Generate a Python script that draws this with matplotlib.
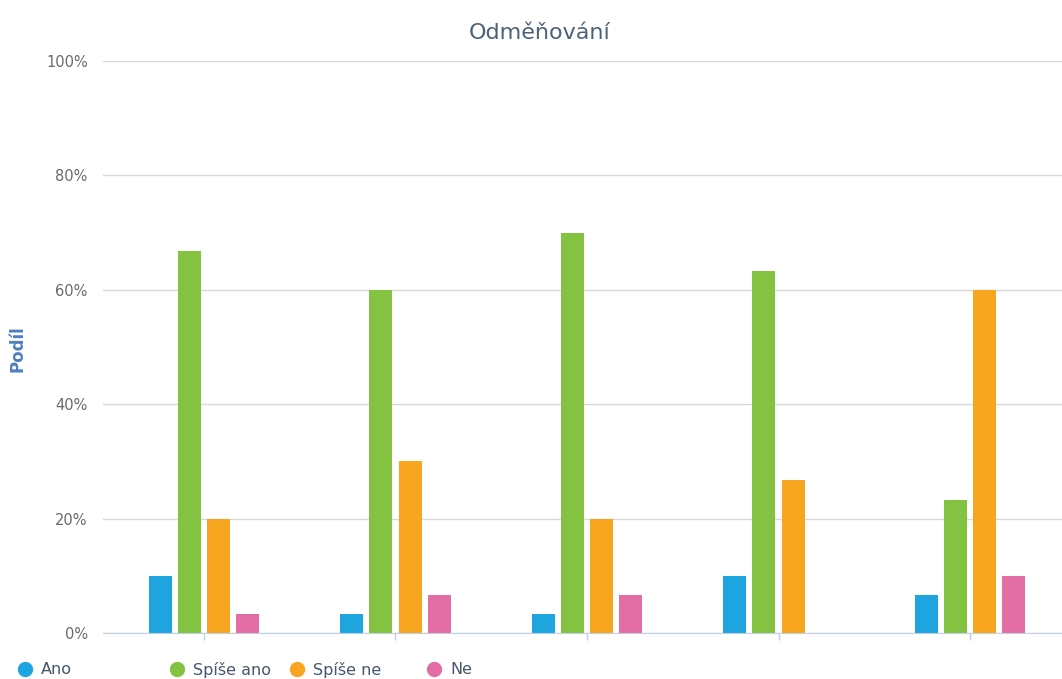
import numpy as np
import matplotlib.pyplot as plt
from matplotlib.lines import Line2D
from matplotlib.ticker import FuncFormatter

# Hodnoty v procentech pro jednotlivé otázky
otazky = ['1', '2', '3', '4', '5']
serie = ['Ano', 'Spíše ano', 'Spíše ne', 'Ne']
ano = [10.0, 3.3, 3.3, 10.0, 6.7]
spise_ano = [66.7, 60.0, 70.0, 63.3, 23.3]
spise_ne = [20.0, 30.0, 20.0, 26.7, 60.0]
ne = [3.3, 6.7, 6.7, 0.0, 10.0]

barvy = ['#1ea5df', '#83c341', '#f8a520', '#e36ea6']

W, H = 1062, 679
fig = plt.figure(figsize=(W / 100, H / 100), dpi=100)
fig.patch.set_facecolor('white')

# Plocha grafu (v pixelech)
left, right, top, bottom = 103, 1062, 61, 633
ax = fig.add_axes([left / W, (H - bottom) / H, (right - left) / W, (bottom - top) / H])

x = np.arange(len(otazky))
sirka = 0.12
krok = 0.152
for i, (hodnoty, barva) in enumerate(zip([ano, spise_ano, spise_ne, ne], barvy)):
    ax.bar(x + (i - 1.5) * krok, hodnoty, width=sirka, color=barva, zorder=3)

ax.set_xlim(-0.527, 4.48)
ax.set_ylim(0, 100)
ax.set_yticks([0, 20, 40, 60, 80, 100])
ax.yaxis.set_major_formatter(FuncFormatter(lambda v, p: f'{int(v)}%'))
ax.grid(axis='y', color='#d8d8d8', linewidth=1, zorder=0)
ax.set_xticks(x)
ax.set_xticklabels([''] * len(otazky))
ax.tick_params(axis='x', length=5, color='#c0d0e0', width=1)
ax.tick_params(axis='y', length=0, pad=11, labelsize=10.5, labelcolor='#6a6a6a')

for s in ['top', 'right', 'left']:
    ax.spines[s].set_visible(False)
ax.spines['bottom'].set_color('#c0d0e0')
ax.spines['bottom'].set_zorder(4)

fig.text(540 / W, 1 - 33 / H, 'Odměňování', ha='center', va='center',
         fontsize=16, color='#4d6179')
fig.text(18 / W, 1 - 349 / H, 'Podíl', ha='center', va='center', rotation=90,
         fontsize=12, fontweight='bold', color='#4f7fbf')

# Legenda pod grafem
legenda_x = [25, 177, 297, 434]
for nazev, barva, px in zip(serie, barvy, legenda_x):
    fig.add_artist(Line2D([px / W], [1 - 669 / H], marker='o', markersize=10,
                          color=barva, linestyle='none', transform=fig.transFigure))
    fig.text((px + 16) / W, 1 - 670 / H, nazev, ha='left', va='center',
             fontsize=11.5, color='#46566b')

fig.savefig('out.png', dpi=100)
